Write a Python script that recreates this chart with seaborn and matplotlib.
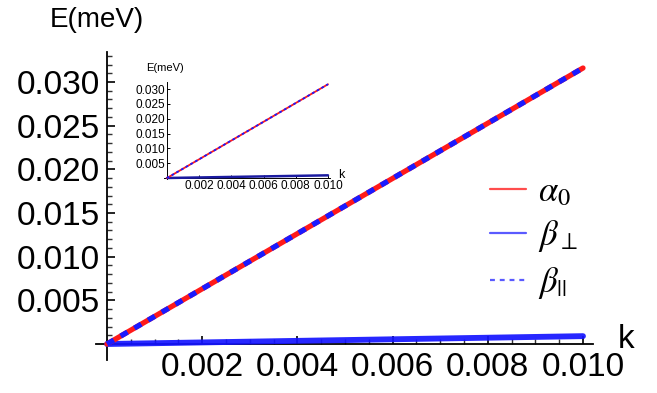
import matplotlib
matplotlib.use("Agg")
import matplotlib.pyplot as plt
import seaborn as sns
import pandas as pd
from matplotlib.lines import Line2D
from matplotlib.ticker import MultipleLocator, FixedLocator

# data
k = [0.0, 0.010]
alpha0 = [0.0, 0.0316]
beta_par = [0.0, 0.0316]
beta_perp = [0.0, 0.0009]
xticks = [0.002, 0.004, 0.006, 0.008, 0.010]
yticks = [0.005, 0.010, 0.015, 0.020, 0.025, 0.030]
labels = [r"$\alpha_0$", r"$\beta_\perp$", r"$\beta_{||}$"]

sns.set_style("white")
plt.rcParams.update({
    "font.family": ["Liberation Sans", "DejaVu Sans"],
    "mathtext.fontset": "stix",
    "text.color": "black",
    "xtick.color": "black",
    "ytick.color": "black",
    "xtick.bottom": True,
    "ytick.left": True,
})

df = pd.DataFrame({"k": k, "alpha0": alpha0, "beta_par": beta_par, "beta_perp": beta_perp})

W, H = 657, 393
fig = plt.figure(figsize=(W / 100, H / 100), dpi=100)


def setup_axes(ax, xl, xr, yb, yt, fs, major_len, minor_len, lw, tw, minor=True):
    ax.set_xlim(0, xr)
    ax.set_ylim(0, yt)
    for s in ["top", "right"]:
        ax.spines[s].set_visible(False)
    ax.spines["bottom"].set_bounds(xl, xr)
    ax.spines["left"].set_bounds(yb, yt)
    for s in ["left", "bottom"]:
        ax.spines[s].set_color("black")
        ax.spines[s].set_linewidth(lw)
        ax.spines[s].set_zorder(5)
        ax.spines[s].set_clip_on(False)
    ax.xaxis.set_major_locator(FixedLocator(xticks))
    ax.yaxis.set_major_locator(FixedLocator(yticks))
    ax.set_xticklabels([f"{v:.3f}" for v in xticks])
    ax.set_yticklabels([f"{v:.3f}" for v in yticks])
    ax.tick_params(axis="both", which="major", direction="in", length=major_len,
                   width=tw, color="black", labelsize=fs, labelcolor="black",
                   bottom=True, left=True)
    if minor:
        ax.xaxis.set_minor_locator(MultipleLocator(0.0005))
        ax.yaxis.set_minor_locator(MultipleLocator(0.001))
        ax.tick_params(axis="both", which="minor", direction="in", length=minor_len,
                       width=tw * 0.85, color="#333333", bottom=True, left=True)
    ax.set_xlabel("")
    ax.set_ylabel("")


# main axes: x 0 -> px 107, 0.010 -> px 583 ; y 0 -> px 344, 0.030 -> px 82
px_per_x = (583 - 107) / 0.010
px_per_y = (344 - 82) / 0.030
xl, xr = -0.00023, 0.0102
yb, yt = -0.0018, 0.0334
left = 107
right = 107 + xr * px_per_x
top = 344 - yt * px_per_y
bottom = 344
ax = fig.add_axes([left / W, 1 - bottom / H, (right - left) / W, (bottom - top) / H])
ax.set_facecolor("none")

sns.lineplot(data=df, x="k", y="beta_perp", ax=ax, color="#1414ff", lw=4.2, alpha=0.92,
             clip_on=False, zorder=6)
sns.lineplot(data=df, x="k", y="alpha0", ax=ax, color="#ff1a1a", lw=3.8, clip_on=False, zorder=7)
sns.lineplot(data=df, x="k", y="beta_par", ax=ax, color="#1a1aff", lw=3.8,
             linestyle=(0, (1.5, 1.5)), clip_on=False, zorder=8)
setup_axes(ax, xl, xr, yb, yt, 24, 6, 3.5, 1.3, 1.2)
ax.tick_params(axis="x", which="major", pad=6)
ax.tick_params(axis="y", which="major", pad=5)

fig.text(50 / W, 1 - 20 / H, "E(meV)", fontsize=20, ha="left", va="center")
fig.text(626 / W, 1 - 340 / H, "k", fontsize=24, ha="center", va="center")

handles = [Line2D([], [], color="#ff4d4d", lw=1.6),
           Line2D([], [], color="#5a5aff", lw=1.6),
           Line2D([], [], color="#5a5aff", lw=1.6, linestyle=(0, (2.2, 2.2)))]
fig.legend(handles, labels, loc="center left", bbox_to_anchor=(462 / W, 1 - 238 / H),
           frameon=False, fontsize=25, handlelength=1.05, handletextpad=0.35,
           labelspacing=0.3, borderpad=0.3)

# inset: x 0 -> px 167, 0.010 -> px 328 ; y 0 -> px 178, 0.030 -> px 89
ipx = (328 - 167) / 0.010
ipy = (178 - 89) / 0.030
ixl, ixr = -0.0002, 0.0101
iyb, iyt = -0.0003, 0.0325
il = 167
ir = 167 + ixr * ipx
it = 178 - iyt * ipy
ib = 178
iax = fig.add_axes([il / W, 1 - ib / H, (ir - il) / W, (ib - it) / H])
iax.set_facecolor("none")
sns.lineplot(data=df, x="k", y="beta_perp", ax=iax, color="#1a1aa0", lw=1.8, clip_on=False, zorder=6)
sns.lineplot(data=df, x="k", y="alpha0", ax=iax, color="#ff1a1a", lw=1.3, clip_on=False, zorder=7)
sns.lineplot(data=df, x="k", y="beta_par", ax=iax, color="#1a1aff", lw=1.3,
             linestyle=(0, (1.5, 1.5)), clip_on=False, zorder=8)
setup_axes(iax, ixl, ixr, iyb, iyt, 8.5, 2.5, 1.5, 0.7, 0.7, minor=False)
iax.minorticks_off()
iax.tick_params(axis="both", which="major", pad=1.5)
fig.text(165 / W, 1 - 68 / H, "E(meV)", fontsize=8, ha="center", va="center")
fig.text(341 / W, 1 - 175 / H, "k", fontsize=9, ha="center", va="center")

fig.savefig("out.png", dpi=100)
